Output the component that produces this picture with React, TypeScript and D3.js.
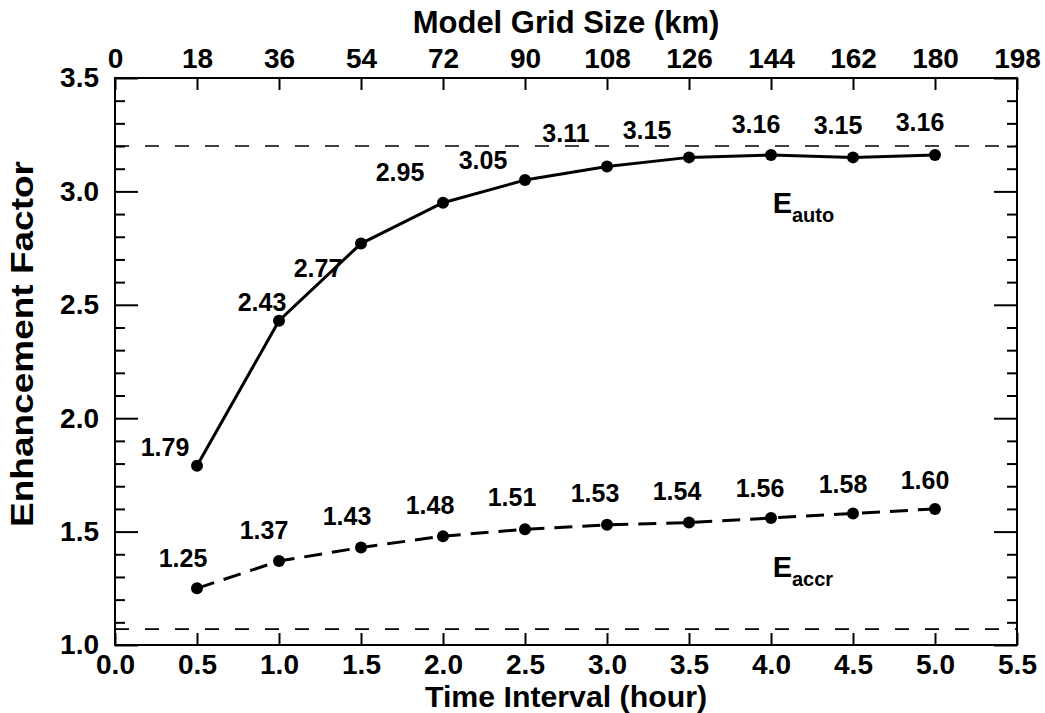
import { useEffect, useRef } from "react";
import * as d3 from "d3";

// values
const hours = [0.5, 1.0, 1.5, 2.0, 2.5, 3.0, 3.5, 4.0, 4.5, 5.0];
const eAuto = [1.79, 2.43, 2.77, 2.95, 3.05, 3.11, 3.15, 3.16, 3.15, 3.16];
const eAccr = [1.25, 1.37, 1.43, 1.48, 1.51, 1.53, 1.54, 1.56, 1.58, 1.6];
const hourTicks = [0, 0.5, 1.0, 1.5, 2.0, 2.5, 3.0, 3.5, 4.0, 4.5, 5.0, 5.5];
const kmTicks = [0, 18, 36, 54, 72, 90, 108, 126, 144, 162, 180, 198];
const factorTicks = [1.0, 1.5, 2.0, 2.5, 3.0, 3.5];
const refLines = [3.2, 1.07];

// label nudges in px (label centre relative to its point)
const autoDx = [-32, -17, -43, -43, -42, -41, -42, -15, -15, -15];
const autoDy = [-19, -19, 24, -31, -20, -33, -27, -31, -32, -33];
const accrDx = [-14, -15, -14, -13, -13, -12, -12, -11, -10, -10];
const accrDy = [-30, -31, -31, -31, -32, -32, -32, -30, -29, -29];

const width = 1045;
const height = 713;
const margin = { top: 78, right: 28, bottom: 68, left: 115 };
const font = "'Liberation Sans', Arial, Helvetica, sans-serif";

const App = () => {
  const ref = useRef<SVGSVGElement>(null);

  useEffect(() => {
    const svg = d3.select(ref.current);
    svg.selectAll("*").remove();

    const x = d3.scaleLinear().domain([0, 5.5]).range([margin.left, width - margin.right]);
    const xKm = d3.scaleLinear().domain([0, 198]).range(x.range());
    const y = d3.scaleLinear().domain([1, 3.5]).range([height - margin.bottom, margin.top]);
    const minor = y.ticks(25).filter((d) => Math.abs(d * 2 - Math.round(d * 2)) > 1e-6);

    const styleAxis = (g: any, withText = true) => {
      g.attr("font-family", null).attr("font-size", null);
      g.select(".domain").remove();
      g.selectAll("line").attr("stroke", "#000").attr("stroke-width", 2);
      if (withText) {
        g.selectAll("text")
          .attr("font-family", font)
          .attr("font-size", 28)
          .attr("font-weight", "bold")
          .attr("fill", "#000");
      } else {
        g.selectAll("text").remove();
      }
    };

    // dashed reference lines
    svg.selectAll(".ref")
      .data(refLines)
      .join("line")
      .attr("class", "ref")
      .attr("x1", x(0))
      .attr("x2", x(5.5))
      .attr("y1", (d) => y(d))
      .attr("y2", (d) => y(d))
      .attr("stroke", "#000")
      .attr("stroke-width", 1.6)
      .attr("stroke-dasharray", "14 16");

    // bottom axis
    svg.append("g")
      .attr("transform", `translate(0,${y(1)})`)
      .call(d3.axisBottom(x).tickValues(hourTicks).tickSize(-12).tickSizeOuter(0).tickPadding(9).tickFormat(d3.format(".1f")))
      .call((g) => styleAxis(g));

    // top axis
    svg.append("g")
      .attr("transform", `translate(0,${y(3.5)})`)
      .call(d3.axisTop(xKm).tickValues(kmTicks).tickSize(-12).tickSizeOuter(0).tickPadding(10).tickFormat(d3.format("d")))
      .call((g) => styleAxis(g));

    // left axis
    svg.append("g")
      .attr("transform", `translate(${x(0)},0)`)
      .call(d3.axisLeft(y).tickValues(factorTicks).tickSize(-23).tickSizeOuter(0).tickPadding(16).tickFormat(d3.format(".1f")))
      .call((g) => styleAxis(g));
    svg.append("g")
      .attr("transform", `translate(${x(0)},0)`)
      .call(d3.axisLeft(y).tickValues(minor).tickSize(-10).tickSizeOuter(0))
      .call((g) => styleAxis(g, false));

    // right axis
    svg.append("g")
      .attr("transform", `translate(${x(5.5)},0)`)
      .call(d3.axisRight(y).tickValues(factorTicks).tickSize(-23).tickSizeOuter(0))
      .call((g) => styleAxis(g, false));
    svg.append("g")
      .attr("transform", `translate(${x(5.5)},0)`)
      .call(d3.axisRight(y).tickValues(minor).tickSize(-10).tickSizeOuter(0))
      .call((g) => styleAxis(g, false));

    // frame
    svg.append("rect")
      .attr("x", x(0))
      .attr("y", y(3.5))
      .attr("width", x(5.5) - x(0))
      .attr("height", y(1) - y(3.5))
      .attr("fill", "none")
      .attr("stroke", "#000")
      .attr("stroke-width", 2);

    const line = d3.line<number>()
      .x((_, i) => x(hours[i]))
      .y((d) => y(d));

    // E_auto
    svg.append("path")
      .datum(eAuto)
      .attr("d", line)
      .attr("fill", "none")
      .attr("stroke", "#000")
      .attr("stroke-width", 3);

    // E_accr
    svg.append("path")
      .datum(eAccr)
      .attr("d", line)
      .attr("fill", "none")
      .attr("stroke", "#000")
      .attr("stroke-width", 3)
      .attr("stroke-dasharray", "18 10");

    const series = [
      { vals: eAuto, dx: autoDx, dy: autoDy },
      { vals: eAccr, dx: accrDx, dy: accrDy },
    ];

    series.forEach((s) => {
      svg.append("g")
        .selectAll("circle")
        .data(s.vals)
        .join("circle")
        .attr("cx", (_, i) => x(hours[i]))
        .attr("cy", (d) => y(d))
        .attr("r", 6)
        .attr("fill", "#000");

      svg.append("g")
        .selectAll("text")
        .data(s.vals)
        .join("text")
        .attr("x", (_, i) => x(hours[i]) + s.dx[i])
        .attr("y", (d, i) => y(d) + s.dy[i])
        .attr("dy", "0.36em")
        .attr("text-anchor", "middle")
        .attr("font-family", font)
        .attr("font-size", 25)
        .attr("font-weight", "bold")
        .text((d) => d3.format(".2f")(d));
    });

    // series names
    const names = [
      { sub: "auto", at: [4.01, 2.905] },
      { sub: "accr", at: [4.01, 1.3] },
    ];
    names.forEach((n) => {
      const t = svg.append("text")
        .attr("x", x(n.at[0]))
        .attr("y", y(n.at[1]))
        .attr("font-family", font)
        .attr("font-weight", "bold")
        .attr("font-size", 29)
        .text("E");
      t.append("tspan")
        .attr("font-size", 20)
        .attr("dy", 9)
        .text(n.sub);
    });

    // axis titles
    svg.append("text")
      .attr("x", (x(0) + x(5.5)) / 2)
      .attr("y", 707)
      .attr("text-anchor", "middle")
      .attr("font-family", font)
      .attr("font-weight", "bold")
      .attr("font-size", 29)
      .attr("textLength", 282)
      .attr("lengthAdjust", "spacingAndGlyphs")
      .text("Time Interval (hour)");

    svg.append("text")
      .attr("x", (x(0) + x(5.5)) / 2)
      .attr("y", 33)
      .attr("text-anchor", "middle")
      .attr("font-family", font)
      .attr("font-weight", "bold")
      .attr("font-size", 31)
      .text("Model Grid Size (km)");

    svg.append("text")
      .attr("transform", `translate(33,344) rotate(-90)`)
      .attr("text-anchor", "middle")
      .attr("font-family", font)
      .attr("font-weight", "bold")
      .attr("font-size", 31)
      .attr("textLength", 366)
      .attr("lengthAdjust", "spacingAndGlyphs")
      .text("Enhancement Factor");
  }, []);

  return (
    <svg
      ref={ref}
      width={width}
      height={height}
      style={{ position: "absolute", left: 0, top: 0, background: "#fff" }}
    />
  );
};

export default App;
